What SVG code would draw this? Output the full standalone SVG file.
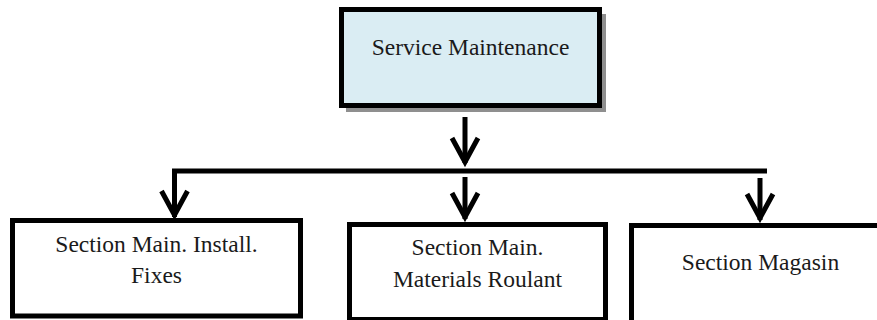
<svg xmlns="http://www.w3.org/2000/svg" xmlns:xlink="http://www.w3.org/1999/xlink" width="877" height="320" viewBox="0 0 877 320">
  <style>
    .box { fill: #ffffff; stroke: #000000; stroke-width: 5; }
    .head-box { fill: #daedf3; stroke: #000000; stroke-width: 5; }
    .shadow { fill: #8f8f8f; }
    .label { font-size: 23.5px; fill: #1a1a1a; text-anchor: middle; }
    .wire { stroke: #000000; stroke-width: 5; fill: none; }
    .tip { stroke: #000000; stroke-width: 5; fill: none; stroke-linejoin: miter; stroke-miterlimit: 10; }
  </style>
  <defs>
    <!-- open V arrowhead, tip at (0,0) -->
    <path id="arrowhead" class="tip" d="M-13,-29 L0,-5 L13,-29"/>
  </defs>

  <rect width="877" height="320" fill="#ffffff"/>

  <g font-family="'Liberation Serif', 'Times New Roman', 'DejaVu Serif', serif">
    <!-- top node -->
    <g id="service-maintenance">
      <rect class="shadow" x="346" y="14" width="260" height="98"/>
      <rect class="head-box" x="341.5" y="9.5" width="258" height="96"/>
      <text class="label" x="470.5" y="55">Service Maintenance</text>
    </g>

    <!-- connectors -->
    <g id="connectors">
      <line class="wire" x1="465" y1="117" x2="465" y2="163"/>
      <use xlink:href="#arrowhead" x="465" y="167"/>
      <polyline class="wire" points="767,171 174.5,171 174.5,217"/>
      <use xlink:href="#arrowhead" x="174.5" y="220"/>
      <line class="wire" x1="465" y1="177" x2="465" y2="219"/>
      <use xlink:href="#arrowhead" x="465" y="222"/>
      <line class="wire" x1="760" y1="178" x2="760" y2="220"/>
      <use xlink:href="#arrowhead" x="760" y="223"/>
    </g>

    <!-- bottom nodes -->
    <g id="section-install-fixes">
      <rect class="box" x="12.5" y="220.5" width="288" height="95.5"/>
      <text class="label" x="156.5" y="252">Section Main. Install.</text>
      <text class="label" x="156.5" y="283">Fixes</text>
    </g>

    <g id="section-materials-roulant">
      <rect class="box" x="349.5" y="224.5" width="256" height="95"/>
      <text class="label" x="477.5" y="255">Section Main.</text>
      <text class="label" x="477.5" y="287">Materials Roulant</text>
    </g>

    <g id="section-magasin">
      <rect class="box" x="631.5" y="225.5" width="260" height="100"/>
      <text class="label" x="760.5" y="270">Section Magasin</text>
    </g>
  </g>
</svg>
